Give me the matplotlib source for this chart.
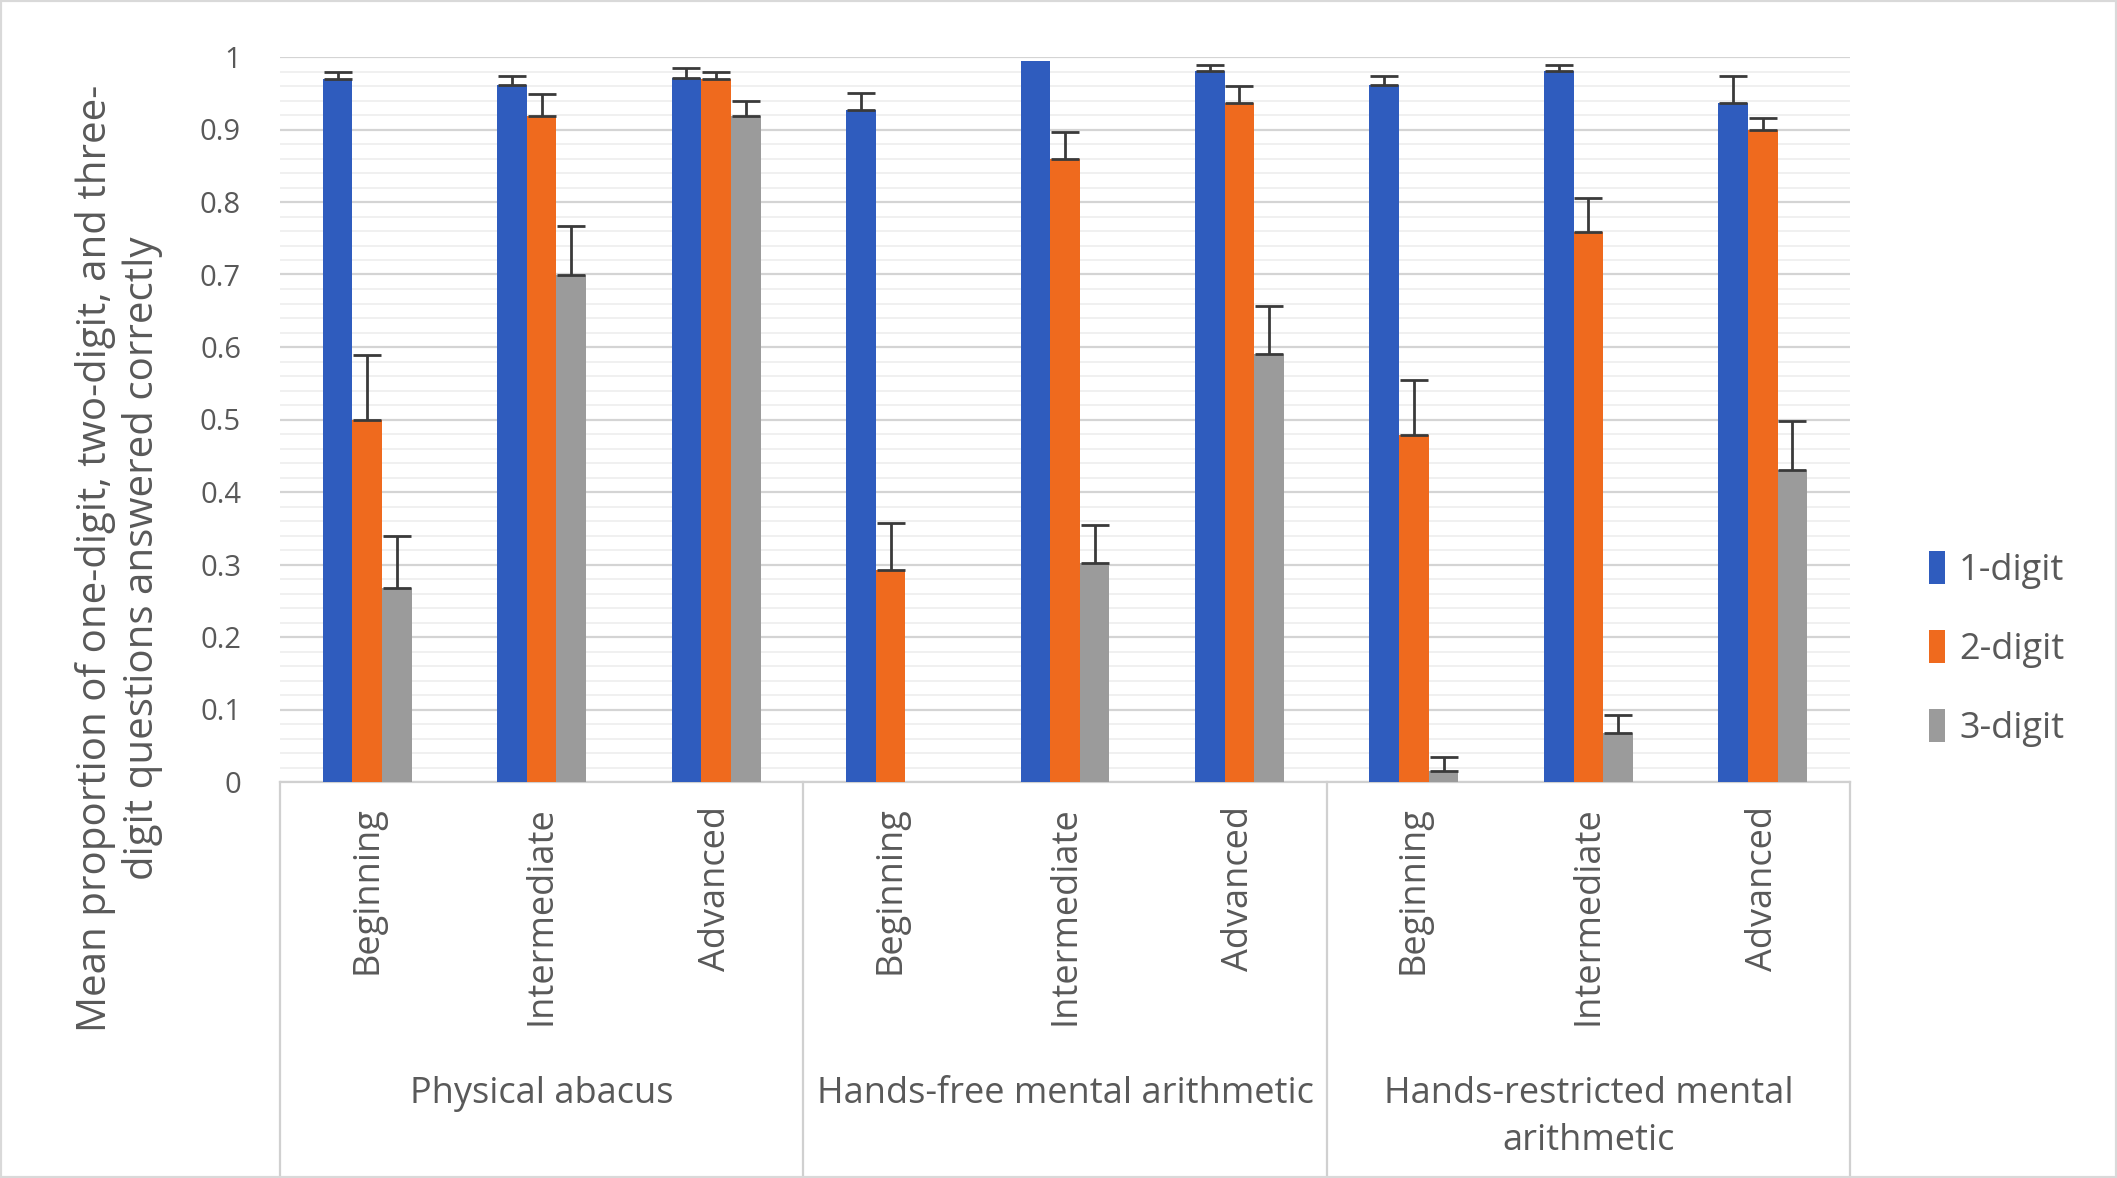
import numpy as np
import matplotlib
matplotlib.use("Agg")
import matplotlib.pyplot as plt
from matplotlib.lines import Line2D
from matplotlib.patches import Rectangle

plt.rcParams['font.family'] = ['Open Sans', 'DejaVu Sans']

# data
levels = ['Beginning', 'Intermediate', 'Advanced'] * 3
groups = ['Physical abacus', 'Hands-free mental arithmetic', 'Hands-restricted mental\narithmetic']
series = ['1-digit', '2-digit', '3-digit']
one_digit = [0.970, 0.962, 0.971, 0.927, 0.994, 0.981, 0.962, 0.981, 0.937]
one_err = [0.009, 0.012, 0.014, 0.024, 0.0, 0.008, 0.012, 0.008, 0.037]
two_digit = [0.500, 0.918, 0.970, 0.292, 0.859, 0.937, 0.479, 0.759, 0.899]
two_err = [0.089, 0.031, 0.009, 0.065, 0.038, 0.023, 0.076, 0.046, 0.017]
three_digit = [0.268, 0.700, 0.918, 0.0, 0.302, 0.590, 0.015, 0.068, 0.430]
three_err = [0.071, 0.067, 0.022, 0.0, 0.052, 0.066, 0.020, 0.024, 0.068]

colors = ['#2F5CBE', '#EF6A1E', '#9B9B9B']
W, H = 2117, 1178
fig = plt.figure(figsize=(W / 100, H / 100), dpi=100)

ax_l, ax_r, ax_b, ax_t = 280, 1850, 782, 57
ax = fig.add_axes([ax_l / W, 1 - ax_b / H, (ax_r - ax_l) / W, (ax_b - ax_t) / H])

x = np.arange(len(levels))
bw = 0.17
handles = []
for i, (vals, errs) in enumerate([(one_digit, one_err), (two_digit, two_err), (three_digit, three_err)]):
    pos = x + (i - 1) * bw
    b = ax.bar(pos, vals, bw, color=colors[i], zorder=3, label=series[i])
    handles.append(b)
    vals = np.array(vals)
    errs = np.array(errs)
    m = errs > 0
    ax.errorbar(pos[m], vals[m], yerr=[np.zeros(m.sum()), errs[m]], fmt='none',
                ecolor='#3a3a3a', elinewidth=2, capsize=10, capthick=2, zorder=4)

ax.set_xlim(-0.5, len(levels) - 0.5)
ax.set_ylim(0, 1)
ax.set_yticks(np.arange(0, 1.01, 0.1))
ax.set_yticklabels(['0'] + ['%.1f' % v for v in np.arange(0.1, 0.95, 0.1)] + ['1'])
ax.set_yticks(np.arange(0, 1.001, 0.02), minor=True)
ax.grid(axis='y', which='major', color='#D4D4D4', linewidth=1.6, zorder=0)
ax.grid(axis='y', which='minor', color='#EEEEEE', linewidth=1.2, zorder=0)
ax.tick_params(axis='y', which='both', length=0, pad=28, labelsize=21, labelcolor='#595959')
ax.set_xticks([])
for s in ['top', 'right', 'left']:
    ax.spines[s].set_visible(False)
ax.spines['bottom'].set_color('#D0D0D0')
ax.spines['bottom'].set_linewidth(1.6)

# multi-level category axis
tr = ax.get_xaxis_transform()
def ay(py):
    return ((1 - py / H) - (1 - ax_b / H)) / ((ax_b - ax_t) / H)

for xs in [-0.5, 2.5, 5.5, 8.5]:
    ax.add_line(Line2D([xs, xs], [0, ay(1176)], transform=tr, color='#D0D0D0',
                       linewidth=1.6, clip_on=False))
for xi, lab in zip(x, levels):
    ax.text(xi, ay(806), lab, transform=tr, rotation=90, ha='center', va='top',
            fontsize=26, color='#595959')
for gi, g in enumerate(groups):
    ax.text(gi * 3 + 1, ay(1076), g, transform=tr, ha='center', va='top',
            fontsize=26, color='#595959', linespacing=1.4)

fig.text(119 / W, 1 - 558 / H,
         'Mean proportion of one-digit, two-digit, and three-\ndigit questions answered correctly',
         rotation=90, ha='center', va='center', fontsize=29, color='#595959',
         multialignment='center', linespacing=1.2)

leg = fig.legend(handles=handles, labels=series, loc='center left',
                 bbox_to_anchor=(1896 / W, 1 - 649 / H), frameon=False,
                 fontsize=26, handlelength=0.45, handleheight=1.0, handletextpad=0.4,
                 labelspacing=1.15)
for t in leg.get_texts():
    t.set_color('#595959')

fig.add_artist(Rectangle((0, 0), 1, 1, transform=fig.transFigure, fill=False,
                         edgecolor='#D9D9D9', linewidth=3))

fig.savefig('out.png', dpi=100)
